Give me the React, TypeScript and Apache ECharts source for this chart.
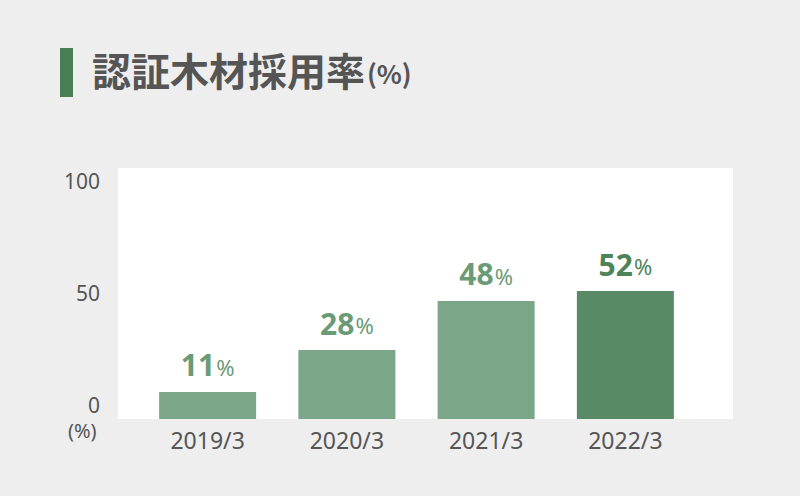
import React, { useEffect, useRef } from 'react';
import * as echarts from 'echarts';

// 認証木材採用率 by fiscal year-end
const years = ['2019/3', '2020/3', '2021/3', '2022/3'];
const rates = [11, 28, 48, 52];
const yTicks = [0, 50, 100];

const BAR = '#7ba688';
const BAR_LATEST = '#588b65';
const LABEL = '#6b9a77';
const LABEL_LATEST = '#4d8358';
const TEXT = '#555555';
const NUM_FONT = '"Noto Sans", sans-serif';
const JP_FONT = '"Noto Sans CJK JP", sans-serif';

const App: React.FC = () => {
  const chartRef = useRef<HTMLDivElement>(null);

  useEffect(() => {
    const chart = echarts.init(chartRef.current!, undefined, { renderer: 'svg' });

    const last = rates.length - 1;

    const options = {
      animation: false,
      backgroundColor: '#eeeeee',
      title: {
        text: '{t|認証木材採用率}{u|(%)}',
        left: 87,
        top: 44,
        textStyle: {
          rich: {
            t: { fontSize: 39, fontWeight: 'bold', color: TEXT, fontFamily: JP_FONT },
            u: { fontSize: 26, color: TEXT, fontFamily: JP_FONT, padding: [8, 0, 0, 2] },
          },
        },
      },
      graphic: [
        { type: 'rect', left: 60, top: 48, shape: { width: 13, height: 49 }, style: { fill: '#4a7f55' }, z: 10 },
        { type: 'rect', left: 118, top: 168, shape: { width: 615, height: 251 }, style: { fill: '#ffffff' }, z: -1 },
        {
          type: 'text',
          left: 68,
          top: 420,
          style: { text: '(%)', fontSize: 20, fill: TEXT, fontFamily: NUM_FONT },
        },
      ],
      grid: { left: 138, right: 105, top: 173, bottom: 77 },
      xAxis: {
        type: 'category',
        data: years,
        axisLine: { show: false },
        axisTick: { show: false },
        axisLabel: { color: TEXT, fontSize: 23, margin: 9, fontFamily: NUM_FONT },
      },
      yAxis: [
        {
          type: 'value',
          min: 0,
          max: 100,
          show: false,
        },
        {
          // label-only axis; tick text sits slightly offset from the bar scale
          type: 'value',
          position: 'left',
          min: -6.25,
          max: 103.57,
          splitLine: { show: false },
          axisLine: { show: false },
          axisTick: { show: false },
          axisLabel: {
            customValues: yTicks,
            color: TEXT,
            fontSize: 21,
            margin: 38,
            fontFamily: NUM_FONT,
          },
        },
      ],
      series: [
        {
          type: 'bar',
          yAxisIndex: 0,
          barWidth: 97,
          data: rates.map((v, i) => ({
            value: v,
            itemStyle: { color: i === last ? BAR_LATEST : BAR },
            label: { color: i === last ? LABEL_LATEST : LABEL },
          })),
          label: {
            show: true,
            position: 'top',
            distance: 12,
            formatter: (p: any) => `{n|${p.value}}{p|%}`,
            rich: {
              n: { fontSize: 30, fontWeight: 'bold', fontFamily: NUM_FONT },
              p: { fontSize: 22, fontFamily: NUM_FONT, padding: [4, 0, 0, 1] },
            },
          },
        },
      ],
    };

    chart.setOption(options);

    return () => {
      chart.dispose();
    };
  }, []);

  return (
    <div
      ref={chartRef}
      style={{ position: 'fixed', left: 0, top: 0, width: '800px', height: '496px' }}
    />
  );
};

export default App;
